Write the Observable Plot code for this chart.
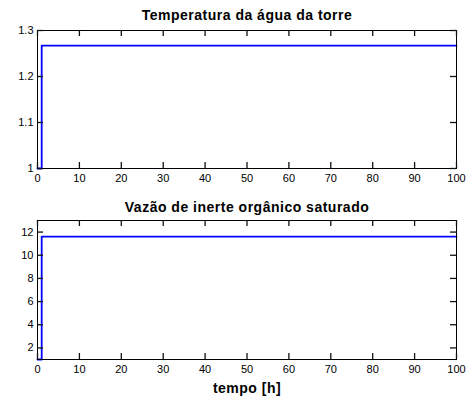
<!DOCTYPE html>
<html>
<head>
<meta charset="utf-8">
<script src="https://cdn.jsdelivr.net/npm/d3@7"></script>
<script src="https://cdn.jsdelivr.net/npm/@observablehq/plot@0.6"></script>
<style>
  html, body { margin: 0; padding: 0; background: #fff; }
  #wrap { position: relative; width: 473px; height: 400px; background: #fff; }
  #wrap > svg { position: absolute; left: 0; display: block; }
</style>
</head>
<body>
<div id="wrap"></div>
<script>
// ---- data ----
const tempo = [0, 1, 100];
const temperatura = [1, 1.267, 1.267];
const vazao = [1, 11.6, 11.6];
const xTicks = [0, 10, 20, 30, 40, 50, 60, 70, 80, 90, 100];
const yTicksTop = [1, 1.1, 1.2, 1.3];
const yTicksBottom = [2, 4, 6, 8, 10, 12];
const titleTop = "Temperatura da água da torre";
const titleBottom = "Vazão de inerte orgânico saturado";
const xLabel = "tempo [h]";

const FONT = "'Liberation Sans', Arial, Helvetica, sans-serif";
const BLUE = "#0000ff";
const W = 473, ML = 37, MR = 17, TICK = 6;

function series(ys) { return tempo.map((t, i) => ({t, v: ys[i]})); }

function panel({ys, yDomain, yTicks, title, titleDy, height, mTop, mBottom, xlabel}) {
  const fw = W - ML - MR, fh = height - mTop - mBottom;
  const tick = {stroke: "#111111", strokeWidth: 1.3};
  const marks = [
    Plot.line(series(ys), {x: "t", y: "v", stroke: BLUE, strokeWidth: 1.8, curve: "step-after"}),
    Plot.axisX(xTicks, {anchor: "bottom", tickSize: 0, tickPadding: 6, fontSize: 11, label: null, fill: "black"}),
    Plot.axisY(yTicks, {anchor: "left", tickSize: 0, tickPadding: 4, fontSize: 11, label: null, fill: "black", tickFormat: d => String(d)}),
    Plot.frame({stroke: "black", strokeWidth: 1}),
    // inward ticks on all four sides
    Plot.ruleX(xTicks, {x: d => d, ...tick, insetTop: fh - TICK}),
    Plot.ruleX(xTicks, {x: d => d, ...tick, insetBottom: fh - TICK}),
    Plot.ruleY(yTicks, {y: d => d, ...tick, insetRight: fw - TICK}),
    Plot.ruleY(yTicks, {y: d => d, ...tick, insetLeft: fw - TICK}),
    Plot.text([title], {frameAnchor: "top", lineAnchor: "bottom", dy: titleDy, text: d => d,
      fontSize: 14, fontWeight: "bold", fill: "black"})
  ];
  if (xlabel) {
    marks.push(Plot.text([xlabel], {frameAnchor: "bottom", lineAnchor: "bottom", dy: 33, text: d => d,
      fontSize: 14, fontWeight: "bold", fill: "black"}));
  }
  return Plot.plot({
    width: W, height,
    marginLeft: ML, marginRight: MR, marginTop: mTop, marginBottom: mBottom,
    style: {fontFamily: FONT, fontSize: "11px", color: "black", background: "transparent", overflow: "visible"},
    x: {domain: [0, 100]},
    y: {domain: yDomain},
    marks
  });
}

const p1 = panel({ys: temperatura, yDomain: [1, 1.3], yTicks: yTicksTop, title: titleTop, titleDy: -11,
  height: 195, mTop: 30, mBottom: 27});
const p2 = panel({ys: vazao, yDomain: [1, 13], yTicks: yTicksBottom, title: titleBottom, titleDy: -9,
  height: 205, mTop: 25, mBottom: 41, xlabel: xLabel});

p1.style.top = "0px";
p2.style.top = "195px";
const wrap = document.getElementById("wrap");
wrap.appendChild(p1);
wrap.appendChild(p2);
wrap.querySelectorAll("text").forEach(t => {
  if (t.getAttribute("font-weight") === "bold" || t.closest("[font-weight=bold]")) t.style.letterSpacing = "0.5px";
});
</script>
</body>
</html>
